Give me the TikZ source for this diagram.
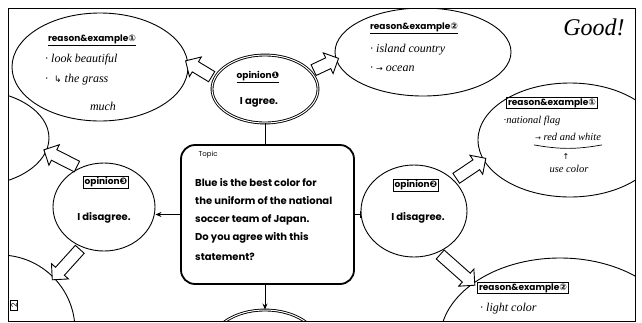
\documentclass[tikz,border=0pt]{standalone}
\usepackage{fontspec}
\setmainfont{Poppins}
\newfontfamily\handfont{Liberation Serif}
\newfontfamily\symfont{DejaVu Sans}
\usetikzlibrary{arrows.meta,shapes,calc}
\tikzstyle{idea}=[ellipse,draw,line width=0.9pt,inner sep=0pt]
\tikzstyle{opinion}=[ellipse,draw,line width=0.9pt,inner sep=0pt,fill=white]
\tikzstyle{fat}=[single arrow,draw,line width=0.9pt,fill=white,inner xsep=0pt,inner ysep=5.5pt,
  single arrow head extend=5.5pt]
\tikzstyle{tag}=[font=\bfseries\fontsize{9}{10}\selectfont,inner sep=1.2pt]
\tikzstyle{print}=[font=\bfseries\fontsize{10}{12}\selectfont,inner sep=1pt]
\tikzstyle{hand}=[font=\handfont\itshape\fontsize{12}{14}\selectfont,inner sep=1pt]

\newcommand{\fatarrow}[2]{%
  \path let \p1=($(#2)-(#1)$), \n1={veclen(\x1,\y1)}, \n2={atan2(\y1,\x1)} in
    node[fat, minimum height=\n1, rotate=\n2] at ($(#1)!0.5!(#2)$) {};}

\begin{document}
\begin{tikzpicture}[x=1pt,y=-1pt]

    \useasboundingbox (0,0) rectangle (642,322);

    \begin{scope}
    \clip (8,8) rectangle (635,321);

    % reason & example bubbles
    \foreach \name/\x/\y/\w/\h in {re1/100/67/176pt/108pt, re2/423/52/176pt/88pt,
        re3/-28/138/154pt/96pt, re4/0/330/150pt/150pt,
        re5/570/140/184pt/114pt, re6/560/340/240pt/164pt}
        \node[idea, minimum width=\w, minimum height=\h] (\name) at (\x,\y) {};

    % opinions
    \foreach \name/\x/\y/\w/\h in {op3/104/207/102pt/88pt, op2/414/211/106pt/92pt}
        \node[opinion, minimum width=\w, minimum height=\h] (\name) at (\x,\y) {};
    \node[opinion, double, double distance=1pt, minimum width=106pt, minimum height=68pt] (op1) at (265,89) {};
    \node[opinion, double, double distance=1pt, minimum width=108pt, minimum height=70pt] (op4) at (265,345) {};

    \node[draw, line width=1.8pt, rounded corners=14pt, minimum width=173pt, minimum height=139pt] (topic) at (267.5,214.5) {};

    \draw[line width=0.9pt] (op1.south) -- (op1.south |- topic.north);
    \draw[line width=0.9pt, -{Stealth[length=6pt,width=5pt]}] (topic.west) -- (topic.west -| op3.east);
    \draw[line width=0.9pt, -{Bar[width=7pt]}] (topic.east) -- (topic.east -| op2.west);
    \draw[line width=0.9pt, -{Stealth[length=6pt,width=5pt]}] (topic.south -| op4) -- (op4.north);

    \fatarrow{op1.168}{re1.3}
    \fatarrow{op1.21}{re2.185}
    \fatarrow{op3.122}{re3.-10}
    \fatarrow{op3.241}{re4.44}
    \fatarrow{op2.38}{re5.193}
    \fatarrow{op2.300}{re6.147}

    % texts
    \node[tag] (op1t) at (258,77) {\underline{opinion{\symfont ❶}}};
    \node[print] (op1s) at (259,102) {I agree.};
    \node[tag, draw] (op3t) at (106,182) {opinion{\symfont ❸}};
    \node[print] (op3s) at (104,218) {I disagree.};
    \node[tag, draw] (op2t) at (416,185) {opinion{\symfont ❷}};
    \node[print] (op2s) at (418,218) {I disagree.};

    \node[font=\fontsize{7}{8}\selectfont, anchor=west] (tp) at (195,155) {Topic};
    \foreach \i/\t in {1/Blue is the best color for, 2/the uniform of the national,
        3/soccer team of Japan., 4/Do you agree with this, 5/statement?}
        \node[print, anchor=west] (line\i) at (194,{163.5+18.7*\i}) {\t};

    \node[tag] (re1t) at (92,40) {\underline{reason\&example{\symfont ①}}};
    \node[hand, anchor=west] (h1) at (44,60) {·\ look beautiful};
    \node[hand, anchor=west] (h2) at (44,80) {·\ \ {\symfont\fontsize{9}{10}\selectfont ↳} the grass};
    \node[hand] (h3) at (103,106) {much};

    \node[tag] (re2t) at (414,28) {\underline{reason\&example{\symfont ②}}};
    \node[hand, anchor=west] (h4) at (369,50) {·\ island country};
    \node[hand, anchor=west] (h5) at (369,69) {·\ {\symfont\fontsize{8}{10}\selectfont →} ocean};

    \node[tag, draw, line width=0.7pt] (re5t) at (552,103) {reason\&example{\symfont ①}};
    \node[hand, font=\handfont\itshape\fontsize{10.5}{12}\selectfont] (h6) at (532,121) {·national flag};
    \node[hand, font=\handfont\itshape\fontsize{10.5}{12}\selectfont] (h7) at (568,137) {{\symfont\fontsize{7}{8}\selectfont →} red and white};
    \draw[line width=0.7pt] ([yshift=-3pt]h7.south west) to[bend right=10] ([yshift=-3pt]h7.south east);
    \node[hand] (h8) at (566,157) {{\symfont\fontsize{8}{9}\selectfont ↑}};
    \node[hand, font=\handfont\itshape\fontsize{10.5}{12}\selectfont] (h9) at (569,169) {use color};

    \node[tag, draw, line width=0.7pt] (re6t) at (523,288) {reason\&example{\symfont ②}};
    \node[hand, anchor=west] (h10) at (479,309) {·\ light color};

    \node[draw, rotate=90, line width=0.6pt, font=\fontsize{7.5}{8}\selectfont, inner xsep=3pt, inner ysep=1pt] (pg) at (14,305) {2};
    \end{scope}

    \node[hand, font=\handfont\itshape\fontsize{24}{26}\selectfont] (good) at (594,27) {Good!};

    \draw[line width=1pt] (8,8) rectangle (635,321);

\end{tikzpicture}
\end{document}
